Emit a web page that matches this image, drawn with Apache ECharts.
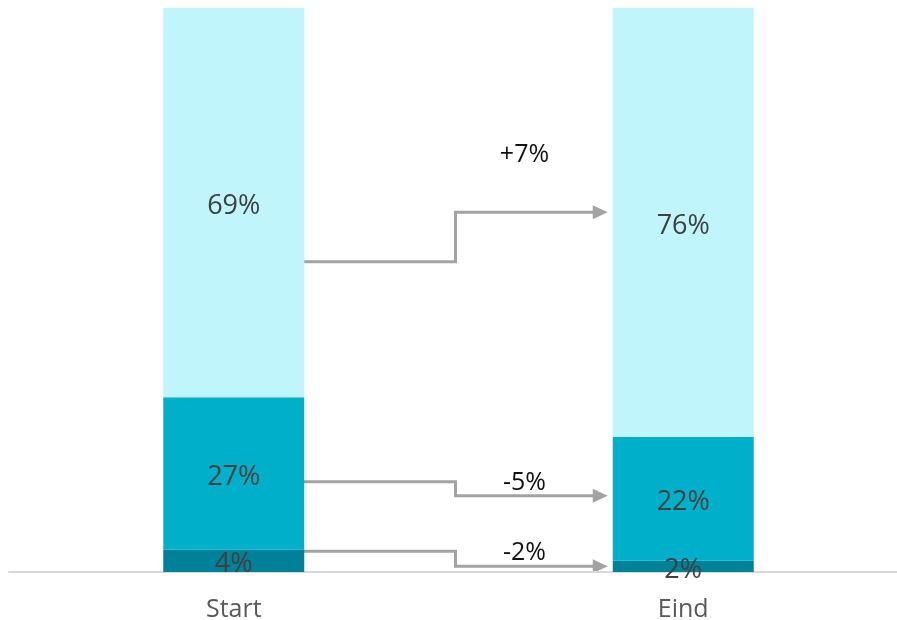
<!DOCTYPE html>
<html>
<head>
<meta charset="utf-8">
<script src="https://cdn.jsdelivr.net/npm/echarts@6/dist/echarts.min.js"></script>
<style>
  html, body { margin: 0; padding: 0; background: #fff; }
  #chart { width: 897px; height: 620px; }
</style>
</head>
<body>
<div id="chart"></div>
<script>
var categories = ['Start', 'Eind'];
var bottomShare = [4, 2];
var middleShare = [27, 22];
var topShare = [69, 76];

// connectors between the two bars (values on the 0-100 axis)
var arrowFrom = [55, 16, 3.7];
var arrowTo = [63.8, 13.5, 1];
var arrowText = ['+7%', '-5%', '-2%'];
var arrowTextAt = [74.0, 15.8, 3.4];

var colors = ['#00819A', '#00AFCA', '#C1F5FC'];
var barW = 141;

var chart = echarts.init(document.getElementById('chart'));

function barSeries(name, data, color) {
  return {
    name: name,
    type: 'bar',
    stack: 'share',
    barWidth: barW,
    data: data,
    itemStyle: { color: color },
    label: {
      show: true,
      position: 'inside',
      offset: [0, 4],
      formatter: '{c}%',
      color: '#404040',
      fontSize: 27,
      fontFamily: 'Open Sans'
    },
    emphasis: { disabled: true }
  };
}

chart.setOption({
  animation: false,
  grid: { left: 9, width: 899, top: 8, bottom: 48, outerBoundsMode: 'none', containLabel: false },
  xAxis: {
    type: 'category',
    data: categories,
    axisLine: { lineStyle: { color: '#D9D9D9', width: 2 } },
    axisTick: { show: false },
    axisLabel: {
      color: '#595959',
      fontSize: 25,
      fontFamily: 'Open Sans',
      margin: 25
    }
  },
  yAxis: {
    type: 'value',
    min: 0,
    max: 100,
    show: false,
    splitLine: { show: false }
  },
  series: [
    barSeries('bottom', bottomShare, colors[0]),
    barSeries('middle', middleShare, colors[1]),
    barSeries('top', topShare, colors[2])
  ]
});

function drawArrows() {
  var els = [];
  for (var i = 0; i < arrowFrom.length; i++) {
    var p0 = chart.convertToPixel({ gridIndex: 0 }, [0, arrowFrom[i]]);
    var p1 = chart.convertToPixel({ gridIndex: 0 }, [1, arrowTo[i]]);
    var pt = chart.convertToPixel({ gridIndex: 0 }, [1, arrowTextAt[i]]);
    var x0 = p0[0] + barW / 2 - 4;
    var tip = p1[0] - barW / 2 - 5;
    var mid = (p0[0] + barW / 2 + p1[0] - barW / 2) / 2 - 3;
    var head = 15;
    els.push({
      type: 'polyline',
      shape: { points: [[x0, p0[1]], [mid, p0[1]], [mid, p1[1]], [tip - head + 2, p1[1]]] },
      style: { stroke: '#A3A3A3', lineWidth: 3, fill: null }
    });
    els.push({
      type: 'polygon',
      shape: { points: [[tip, p1[1]], [tip - head, p1[1] - 7], [tip - head, p1[1] + 7]] },
      style: { fill: '#A3A3A3' }
    });
    els.push({
      type: 'text',
      x: mid + 69,
      y: pt[1],
      style: {
        text: arrowText[i],
        fill: '#111',
        font: '25px "Open Sans"',
        align: 'center',
        verticalAlign: 'middle'
      }
    });
  }
  chart.setOption({ graphic: { elements: els } });
}
drawArrows();
</script>
</body>
</html>
